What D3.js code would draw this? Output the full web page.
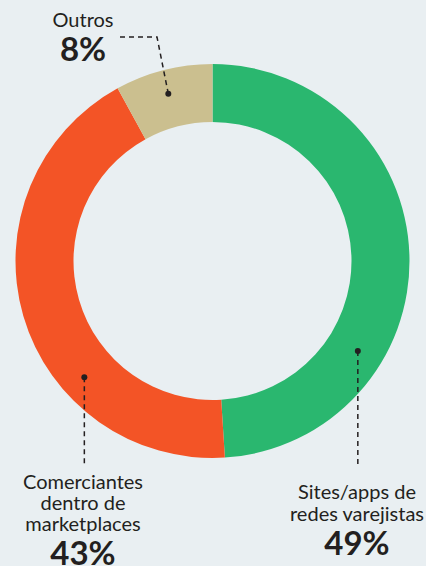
<!DOCTYPE html>
<html>
<head>
<meta charset="utf-8">
<script src="https://cdn.jsdelivr.net/npm/d3@7"></script>
<style>
  html, body { margin: 0; padding: 0; background: #e9eff2; }
  svg { display: block; }
</style>
</head>
<body>
<div id="chart"></div>
<script>
// data
var categories = ["Sites/apps de redes varejistas", "Comerciantes dentro de marketplaces", "Outros"];
var values = [49, 43, 8];
var colors = ["#2ab76f", "#f35426", "#cbbf8f"];
var labelLines = [["Sites/apps de", "redes varejistas"], ["Comerciantes", "dentro de", "marketplaces"], ["Outros"]];

function init()
{
    var w = 426;
    var h = 566;
    var cx = 212.5, cy = 261;
    var outerR = 197, innerR = 139;

    var svg = d3.select("#chart")
                .append("svg")
                .attr("width", w)
                .attr("height", h);

    svg.append("rect").attr("width", w).attr("height", h).attr("fill", "#e9eff2");

    var pie = d3.pie().sort(null).value(function(d) { return d; });
    var arc = d3.arc().innerRadius(innerR).outerRadius(outerR);

    var g = svg.append("g").attr("transform", "translate(" + cx + "," + cy + ")");

    var arcs = pie(values);

    g.selectAll("path")
     .data(arcs)
     .enter()
     .append("path")
     .attr("d", arc)
     .attr("fill", function(d, i) { return colors[i]; });

    // annotation layout: dot angle/radius, label anchor
    var notes = [
        { ang: 121.8, r: 171, lx: 357, top: 499, lineEnd: 467, vertical: true },
        { ang: 227.8, r: 173, lx: 83, top: 489, lineEnd: 467, vertical: true },
        { ang: 345.2, r: 173, lx: 83, top: 27, vertical: false }
    ];

    var font = "Lato, 'Open Sans', sans-serif";
    var ink = "#231f20";

    notes.forEach(function(n, i) {
        var a = n.ang * Math.PI / 180;
        var px = cx + Math.sin(a) * n.r;
        var py = cy - Math.cos(a) * n.r;

        var path;
        if (n.vertical) {
            path = "M" + px + "," + py + "V" + n.lineEnd;
        } else {
            path = "M120,37H157L" + px + "," + py;
        }
        svg.append("path")
           .attr("d", path)
           .attr("fill", "none")
           .attr("stroke", ink)
           .attr("stroke-width", 1.5)
           .attr("stroke-dasharray", "5,4");

        svg.append("circle")
           .attr("cx", px)
           .attr("cy", py)
           .attr("r", 3)
           .attr("fill", ink);

        var lines = labelLines[i];
        var lh = i === 0 ? 22 : 21;
        lines.forEach(function(t, j) {
            svg.append("text")
               .attr("x", n.lx)
               .attr("y", n.top + j * lh)
               .attr("text-anchor", "middle")
               .attr("font-family", font)
               .attr("font-size", "20px")
               .attr("fill", ink)
               .text(t);
        });

        svg.append("text")
           .attr("x", n.lx)
           .attr("y", n.top + (lines.length - 1) * lh + 34)
           .attr("text-anchor", "middle")
           .attr("font-family", font)
           .attr("font-size", "33px")
           .attr("font-weight", "bold")
           .attr("fill", ink)
           .text(values[i] + "%");
    });
}
window.onload = init;
</script>
</body>
</html>
